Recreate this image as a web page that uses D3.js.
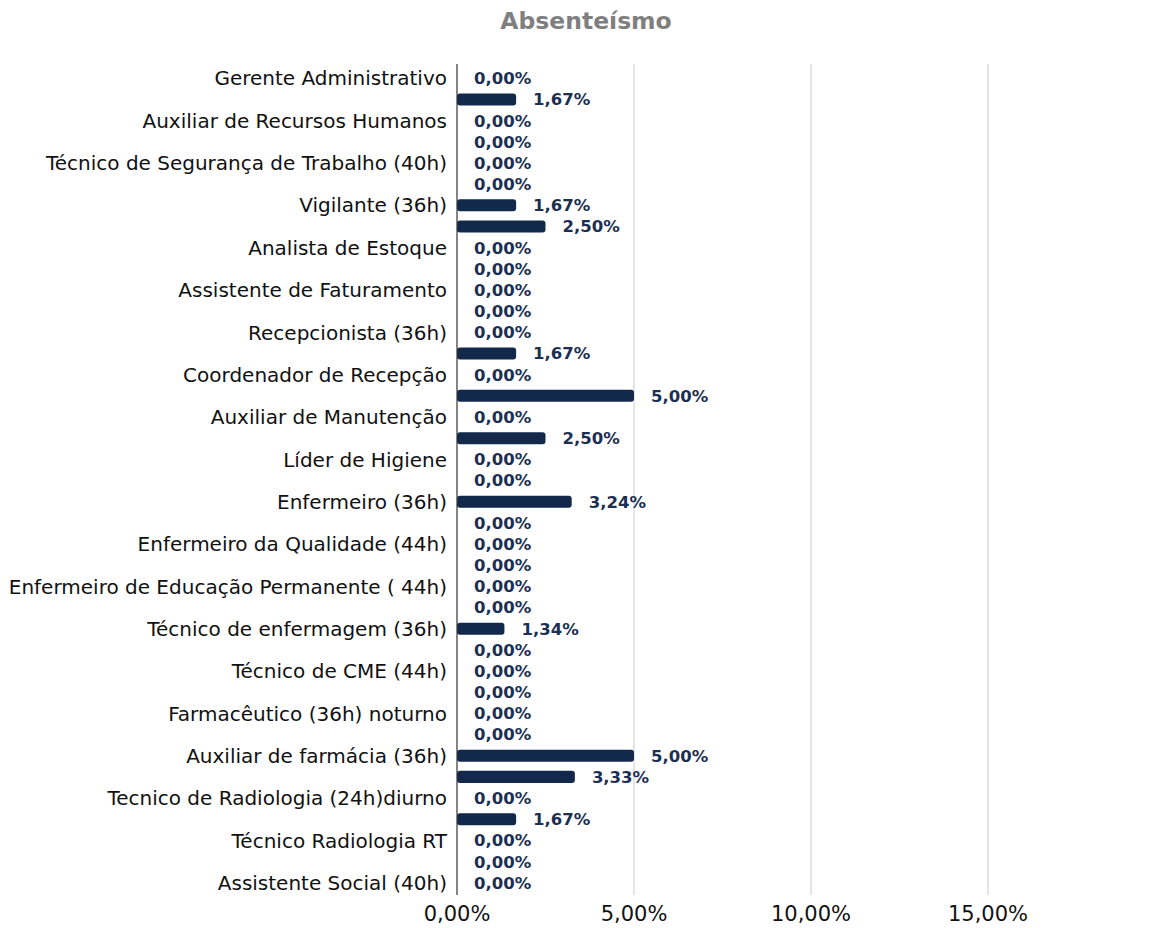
<!DOCTYPE html>
<html>
<head>
<meta charset="utf-8">
<script src="https://cdn.jsdelivr.net/npm/d3@7"></script>
<style>
    body { margin: 0; background: #fff; }
</style>
</head>
<body>
<div id="chart"></div>
<script>
// Cargos (only every other label is shown in the original chart)
let categories = [
    "Gerente Administrativo", "",
    "Auxiliar de Recursos Humanos", "",
    "Técnico de Segurança de Trabalho (40h)", "",
    "Vigilante (36h)", "",
    "Analista de Estoque", "",
    "Assistente de Faturamento", "",
    "Recepcionista (36h)", "",
    "Coordenador de Recepção", "",
    "Auxiliar de Manutenção", "",
    "Líder de Higiene", "",
    "Enfermeiro (36h)", "",
    "Enfermeiro da Qualidade (44h)", "",
    "Enfermeiro de Educação Permanente ( 44h)", "",
    "Técnico de enfermagem (36h)", "",
    "Técnico de CME (44h)", "",
    "Farmacêutico (36h) noturno", "",
    "Auxiliar de farmácia (36h)", "",
    "Tecnico de Radiologia (24h)diurno", "",
    "Técnico Radiologia RT", "",
    "Assistente Social (40h)"
];

// Absenteísmo (%)
let values = [
    0.00, 1.67,
    0.00, 0.00,
    0.00, 0.00,
    1.67, 2.50,
    0.00, 0.00,
    0.00, 0.00,
    0.00, 1.67,
    0.00, 5.00,
    0.00, 2.50,
    0.00, 0.00,
    3.24, 0.00,
    0.00, 0.00,
    0.00, 0.00,
    1.34, 0.00,
    0.00, 0.00,
    0.00, 0.00,
    5.00, 3.33,
    0.00, 1.67,
    0.00, 0.00,
    0.00
];

let xTicks = [0, 5, 10, 15, 20];
let xTickLabels = ["0,00%", "5,00%", "10,00%", "15,00%", ""];

let data = values.map((v, i) => ({ i: i, name: categories[i], value: v }));

let margin = {top: 68, right: 0, bottom: 35, left: 457};
let width = 1163 - margin.left - margin.right;
let height = 928 - margin.top - margin.bottom;

let fmt = v => v.toFixed(2).replace(".", ",") + "%";

let svg = d3.select("#chart").append("svg")
    .attr("width", 1163)
    .attr("height", 928);

svg.append("text")
    .attr("x", 586)
    .attr("y", 29)
    .attr("text-anchor", "middle")
    .attr("font-family", "DejaVu Sans")
    .attr("font-weight", "bold")
    .attr("font-size", 23.5)
    .attr("fill", "#7f7f7f")
    .text("Absenteísmo");

let g = svg.append("g")
    .attr("transform", "translate(" + margin.left + "," + margin.top + ")");

let x = d3.scaleLinear()
    .domain([0, 20])
    .range([0, 708]);

let y = d3.scaleBand()
    .domain(data.map(d => d.i))
    .range([0, height])
    .paddingInner(0.43)
    .paddingOuter(0.2);

// gridlines
g.selectAll(".grid")
    .data(xTicks.slice(1))
    .enter().append("line")
    .attr("class", "grid")
    .attr("x1", d => x(d))
    .attr("x2", d => x(d))
    .attr("y1", -4)
    .attr("y2", height + 2)
    .attr("stroke", "#dcdcdc")
    .attr("stroke-width", 1.5);

// x axis labels
g.selectAll(".xlab")
    .data(xTicks)
    .enter().append("text")
    .attr("class", "xlab")
    .attr("x", d => x(d))
    .attr("y", height + 28)
    .attr("text-anchor", "middle")
    .attr("font-family", "DejaVu Sans")
    .attr("font-size", 21)
    .attr("fill", "#111")
    .text((d, i) => xTickLabels[i]);

// bars
g.selectAll(".bar")
    .data(data.filter(d => d.value > 0))
    .enter().append("rect")
    .attr("class", "bar")
    .attr("x", 0)
    .attr("y", d => y(d.i))
    .attr("width", d => x(d.value))
    .attr("height", y.bandwidth())
    .attr("rx", 3)
    .attr("fill", "#13294b");

// value labels
g.selectAll(".val")
    .data(data)
    .enter().append("text")
    .attr("class", "val")
    .attr("x", d => x(d.value) + 17)
    .attr("y", d => y(d.i) + y.bandwidth() / 2)
    .attr("dy", "0.36em")
    .attr("font-family", "DejaVu Sans")
    .attr("font-weight", "bold")
    .attr("font-size", 16.5)
    .attr("fill", "#1c2f52")
    .text(d => fmt(d.value));

// y axis line + category labels
g.append("line")
    .attr("x1", 0).attr("x2", 0)
    .attr("y1", -4).attr("y2", height + 2)
    .attr("stroke", "#333")
    .attr("stroke-width", 1.2);

g.selectAll(".ylab")
    .data(data.filter(d => d.name !== ""))
    .enter().append("text")
    .attr("class", "ylab")
    .attr("x", -10)
    .attr("y", d => y(d.i) + y.bandwidth() / 2)
    .attr("dy", "0.36em")
    .attr("text-anchor", "end")
    .attr("font-family", "DejaVu Sans")
    .attr("font-size", 20)
    .attr("fill", "#111")
    .text(d => d.name);
</script>
</body>
</html>
